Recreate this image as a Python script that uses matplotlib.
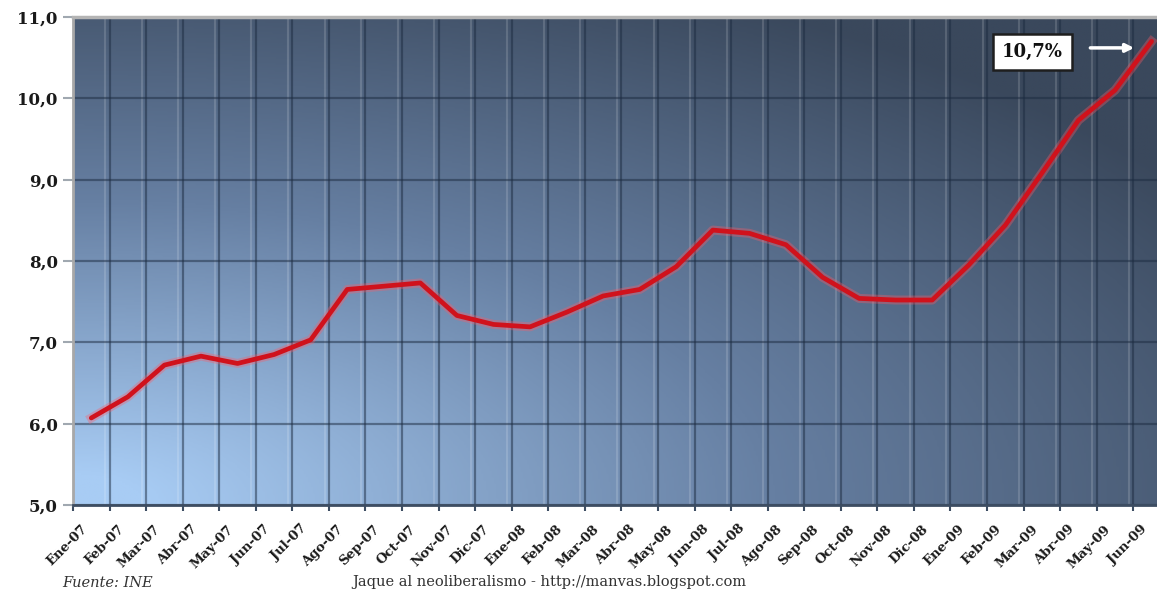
import matplotlib.pyplot as plt
import numpy as np
from matplotlib.colors import LinearSegmentedColormap
from matplotlib.transforms import ScaledTranslation

# Tasa de paro mensual (%), enero 2007 - junio 2009
meses = ["Ene-07", "Feb-07", "Mar-07", "Abr-07", "May-07", "Jun-07",
         "Jul-07", "Ago-07", "Sep-07", "Oct-07", "Nov-07", "Dic-07",
         "Ene-08", "Feb-08", "Mar-08", "Abr-08", "May-08", "Jun-08",
         "Jul-08", "Ago-08", "Sep-08", "Oct-08", "Nov-08", "Dic-08",
         "Ene-09", "Feb-09", "Mar-09", "Abr-09", "May-09", "Jun-09"]
paro = [6.07, 6.33, 6.72, 6.83, 6.74, 6.85,
        7.03, 7.65, 7.69, 7.73, 7.33, 7.22,
        7.19, 7.37, 7.57, 7.65, 7.93, 8.38,
        8.34, 8.20, 7.80, 7.54, 7.52, 7.52,
        7.95, 8.44, 9.08, 9.73, 10.10, 10.70]
yticks = [5, 6, 7, 8, 9, 10, 11]

serif = "DejaVu Serif"

fig = plt.figure(figsize=(11.57, 5.96), dpi=100)
ax = fig.add_axes([0.0631, 0.1527, 0.948, 0.8188])

x = np.arange(len(meses))
ax.set_xlim(-0.5, len(meses) - 0.5)
ax.set_ylim(5, 11)

# fondo degradado: claro abajo a la izquierda, oscuro arriba a la derecha
u, v = np.meshgrid(np.linspace(0, 1, 500), np.linspace(0, 1, 300))
d = np.sqrt((u / 1.22) ** 2 + (v / 1.19) ** 2)
f = np.clip(1 - d, 0, 1)
cmap = LinearSegmentedColormap.from_list("fondo", ["#3a485c", "#667fa2", "#a8ccf4"])
ax.imshow(f, cmap=cmap, extent=[-0.5, len(meses) - 0.5, 5, 11], origin="lower",
          aspect="auto", zorder=0, vmin=0, vmax=0.95, interpolation="bilinear")

# rejilla
bordes = np.arange(len(meses) + 1) - 0.5
ax.vlines(bordes - 0.12, 5, 11, color="white", alpha=0.15, lw=1.5, zorder=1)
ax.vlines(bordes, 5, 11, color="#1c2b40", alpha=0.5, lw=1.6, zorder=1)
ax.hlines(yticks, -0.5, len(meses) - 0.5, color="#1c2b40", alpha=0.5, lw=1.6, zorder=1)

# serie
ax.plot(x, paro, color="#ff5a66", lw=6.5, alpha=0.35, solid_joinstyle="round", zorder=4)
ax.plot(x, paro, color="#d0121c", lw=3.4, solid_joinstyle="round",
        solid_capstyle="round", zorder=5)

# último valor
etiqueta = f"{paro[-1]:.1f}%".replace(".", ",")
ax.text(25.75, 10.57, etiqueta, ha="center", va="center", fontsize=13,
        fontweight="bold", family=serif, color="#111111", zorder=6,
        bbox=dict(boxstyle="square,pad=0.5", fc="white", ec="#1e1e1e", lw=1.8))
ax.annotate("", xy=(28.6, 10.62), xytext=(27.25, 10.62), zorder=6,
            arrowprops=dict(arrowstyle="-|>", color="white", lw=2.5, mutation_scale=12))

# ejes
ax.set_yticks(yticks)
ax.set_yticklabels([f"{t:.1f}".replace(".", ",") for t in yticks],
                   fontsize=12, fontweight="bold", family=serif, color="#1a1a1a")
ax.tick_params(axis="y", length=7, width=1.5, color="#a0a8b0", pad=4)

ax.set_xticks(x)
ax.set_xticklabels(meses, rotation=45, ha="right", va="center", rotation_mode="anchor",
                   fontsize=9.5, fontweight="bold", family=serif, color="#1a1a1a")
ax.tick_params(axis="x", which="major", length=0, pad=16)
ax.set_xticks(bordes, minor=True)
ax.tick_params(axis="x", which="minor", length=4, width=1.5, color="#3d4d62")
desplaza = ScaledTranslation(-6 / 100, 0, fig.dpi_scale_trans)
for lab in ax.get_xticklabels():
    lab.set_transform(lab.get_transform() + desplaza)

ax.spines["right"].set_visible(False)
ax.spines["top"].set_color("#b4b4b4")
ax.spines["top"].set_linewidth(2.5)
ax.spines["left"].set_color("#a8a8a8")
ax.spines["left"].set_linewidth(2)
ax.spines["bottom"].set_color("#3d4d62")
ax.spines["bottom"].set_linewidth(2)

fig.text(62 / 1157, 0.01, "Fuente: INE", fontsize=10.5, style="italic",
         family=serif, color="#333333", va="bottom")
fig.text(352 / 1157, 0.012, "Jaque al neoliberalismo - http://manvas.blogspot.com",
         fontsize=10.5, family=serif, color="#333333", va="bottom")

fig.savefig("out.png", dpi=100)
